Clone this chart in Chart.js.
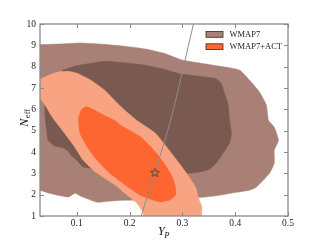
<!DOCTYPE html>
<html>
<head>
<meta charset="utf-8">
<script src="https://cdn.jsdelivr.net/npm/chart.js@4/dist/chart.umd.min.js"></script>
<style>
  html, body { margin: 0; padding: 0; background: #fff; }
  #wrap { width: 320px; height: 240px; }
</style>
</head>
<body>
<div id="wrap"><canvas id="c" width="320" height="240"></canvas></div>
<script>
// contour outlines, [Y_P, N_eff]
const wmap7Outer = [
  [0.02, 9.03], [0.068, 9.06], [0.106, 9.11], [0.144, 9.06], [0.186, 8.97], [0.230, 8.83],
  [0.268, 8.61], [0.300, 8.31], [0.345, 8.12], [0.408, 7.84], [0.427, 7.37], [0.446, 6.81],
  [0.459, 6.20], [0.463, 5.49], [0.474, 5.16], [0.482, 4.55], [0.474, 4.08], [0.474, 3.47],
  [0.465, 3.00], [0.440, 2.35], [0.427, 2.21], [0.402, 2.11], [0.370, 1.97], [0.340, 1.88],
  [0.296, 1.83], [0.239, 1.74], [0.188, 1.74], [0.159, 1.69], [0.140, 1.64], [0.127, 1.74],
  [0.108, 1.92], [0.097, 2.07], [0.084, 1.89], [0.065, 1.97], [0.046, 2.08], [0.030, 2.21],
  [0.02, 2.21], [0.02, 9.03]
];
const wmap7Inner = [
  [0.074, 7.84], [0.097, 8.03], [0.122, 8.14], [0.154, 8.25], [0.186, 8.19], [0.224, 8.09],
  [0.262, 7.90], [0.294, 7.67], [0.345, 7.51], [0.364, 7.43], [0.374, 7.20], [0.380, 6.73],
  [0.387, 6.20], [0.389, 5.54], [0.393, 4.88], [0.389, 4.41], [0.377, 3.94], [0.364, 3.47],
  [0.351, 3.19], [0.334, 3.07], [0.315, 3.00], [0.239, 3.05], [0.163, 3.15], [0.112, 3.30],
  [0.100, 3.62], [0.089, 3.85], [0.084, 4.04], [0.074, 4.20], [0.059, 4.27], [0.046, 4.55],
  [0.042, 5.16], [0.040, 5.73], [0.040, 6.43], [0.053, 7.14], [0.074, 7.84]
];
const actOuter = [
  [0.02, 7.37], [0.032, 7.43], [0.046, 7.59], [0.065, 7.75], [0.084, 7.78], [0.103, 7.67],
  [0.127, 7.36], [0.153, 6.89], [0.178, 6.26], [0.195, 5.87], [0.213, 5.49], [0.249, 4.88],
  [0.275, 4.08], [0.294, 3.47], [0.313, 2.82], [0.325, 2.35], [0.332, 1.74], [0.337, 1.42],
  [0.336, 0.99], [0.334, 0.56], [0.224, 0.56], [0.226, 1.13], [0.214, 1.60], [0.188, 2.13],
  [0.178, 2.36], [0.153, 2.77], [0.131, 3.15], [0.112, 3.62], [0.096, 4.24], [0.077, 4.88],
  [0.058, 5.49], [0.049, 5.82], [0.040, 6.20], [0.030, 6.53], [0.02, 6.53], [0.02, 7.37]
];
const actInner = [
  [0.103, 5.59], [0.108, 5.96], [0.118, 6.13], [0.134, 5.96], [0.153, 5.71], [0.172, 5.48],
  [0.186, 5.21], [0.221, 4.71], [0.249, 4.00], [0.268, 3.38], [0.281, 2.83], [0.287, 2.36],
  [0.287, 1.97], [0.275, 1.74], [0.258, 1.66], [0.245, 1.74], [0.220, 1.97], [0.188, 2.52],
  [0.163, 2.99], [0.138, 3.62], [0.120, 4.24], [0.106, 4.88], [0.103, 5.59]
];
const bbnLine = [[0.222, 1.0], [0.248, 3.05], [0.278, 5.5], [0.321, 10.0]];
const fiducial = [[0.248, 3.04]];

const xTicks = [0.1, 0.2, 0.3, 0.4, 0.5];
const yTicks = [1, 2, 3, 4, 5, 6, 7, 8, 9, 10];
const legendLabels = ['WMAP7', 'WMAP7+ACT'];

const colors = {
  wmapOuter: '#a88076',
  wmapInner: '#7a5a50',
  actOuter: '#f8a482',
  actInner: '#fd6630',
  line: '#8c8c8c',
  axis: '#8a8a8a'
};
const serif = "'Liberation Serif', 'DejaVu Serif', serif";

const toPts = arr => arr.map(([x, y]) => ({ x, y }));

function polygon(data, color, order) {
  return {
    data: toPts(data),
    showLine: true,
    fill: 'shape',
    backgroundColor: color,
    borderColor: color,
    borderWidth: 0.5,
    pointRadius: 0,
    pointHoverRadius: 0,
    tension: 0.15,
    order
  };
}

// small outlined 5-point star for the fiducial point
function starImage() {
  const c = document.createElement('canvas');
  c.width = 11; c.height = 11;
  const g = c.getContext('2d');
  g.beginPath();
  for (let i = 0; i < 10; i++) {
    const r = i % 2 === 0 ? 4.6 : 1.9;
    const a = -Math.PI / 2 + i * Math.PI / 5;
    const px = 5.5 + r * Math.cos(a), py = 5.8 + r * Math.sin(a);
    i === 0 ? g.moveTo(px, py) : g.lineTo(px, py);
  }
  g.closePath();
  g.strokeStyle = '#4a4a4a';
  g.lineWidth = 1;
  g.stroke();
  return c;
}

const decorPlugin = {
  id: 'decor',
  afterDatasetsDraw(chart) {
    const { ctx, chartArea: a, scales: { x, y } } = chart;
    ctx.save();
    ctx.strokeStyle = colors.axis;
    ctx.lineWidth = 1;
    ctx.beginPath();
    xTicks.forEach(v => {
      const px = Math.round(x.getPixelForValue(v)) + 0.5;
      ctx.moveTo(px, a.bottom); ctx.lineTo(px, a.bottom - 4);
      ctx.moveTo(px, a.top); ctx.lineTo(px, a.top + 4);
    });
    yTicks.forEach(v => {
      const py = Math.round(y.getPixelForValue(v)) + 0.5;
      ctx.moveTo(a.left, py); ctx.lineTo(a.left + 4, py);
      ctx.moveTo(a.right, py); ctx.lineTo(a.right - 4, py);
    });
    ctx.stroke();
    ctx.lineWidth = 1.3;
    ctx.strokeRect(a.left, a.top, a.right - a.left, a.bottom - a.top);
    ctx.restore();
  },
  afterDraw(chart) {
    const { ctx, chartArea: a } = chart;
    ctx.save();

    // legend
    const fills = [colors.wmapOuter, colors.actInner];
    ctx.font = '8.5px ' + serif;
    ctx.textBaseline = 'middle';
    legendLabels.forEach((lab, i) => {
      const by = 31.5 + i * 12.3;
      ctx.fillStyle = fills[i];
      ctx.fillRect(206, by, 17, 5.8);
      ctx.strokeStyle = '#3a2a25';
      ctx.lineWidth = 0.8;
      ctx.strokeRect(206, by, 17, 5.8);
      ctx.fillStyle = '#222';
      ctx.fillText(lab, 229.5, by + 3.2);
    });

    // x axis title: Y_P
    ctx.fillStyle = '#111';
    ctx.textBaseline = 'alphabetic';
    const bigFont = 'italic 12px ' + serif;
    const subFont = 'italic 8.5px ' + serif;
    ctx.font = bigFont;
    const wY = ctx.measureText('Y').width;
    ctx.font = subFont;
    const wP = ctx.measureText('P').width;
    let sx = (a.left + a.right) / 2 - (wY + wP) / 2;
    ctx.font = bigFont;
    ctx.fillText('Y', sx, 235);
    ctx.font = subFont;
    ctx.fillText('P', sx + wY - 0.5, 237.5);

    // y axis title: N_eff
    ctx.translate(27.5, (a.top + a.bottom) / 2 - 2);
    ctx.rotate(-Math.PI / 2);
    ctx.font = bigFont;
    const wN = ctx.measureText('N').width;
    ctx.font = '8.5px ' + serif;
    const wE = ctx.measureText('eff').width;
    const start = -(wN + wE) / 2;
    ctx.font = bigFont;
    ctx.fillText('N', start, 0);
    ctx.font = '8.5px ' + serif;
    ctx.fillText('eff', start + wN + 0.5, 2.5);
    ctx.restore();
  }
};

new Chart(document.getElementById('c'), {
  type: 'scatter',
  data: {
    datasets: [
      polygon(wmap7Outer, colors.wmapOuter, 6),
      polygon(wmap7Inner, colors.wmapInner, 5),
      polygon(actOuter, colors.actOuter, 4),
      polygon(actInner, colors.actInner, 3),
      {
        data: toPts(bbnLine),
        showLine: true,
        fill: false,
        borderColor: colors.line,
        borderWidth: 1,
        pointRadius: 0,
        tension: 0.3,
        order: 2
      },
      {
        data: toPts(fiducial),
        pointStyle: starImage(),
        pointRadius: 5,
        order: 1
      }
    ]
  },
  options: {
    responsive: false,
    animation: false,
    devicePixelRatio: 1,
    events: [],
    layout: { padding: { top: 24, right: 32, left: 0, bottom: 0 } },
    plugins: {
      legend: { display: false },
      tooltip: { enabled: false },
      filler: { propagate: false }
    },
    scales: {
      x: {
        type: 'linear',
        min: 0.0304,
        max: 0.5,
        grid: { display: false, drawTicks: false },
        border: { display: false },
        afterFit: s => { s.height = 24; },
        afterBuildTicks: s => { s.ticks = xTicks.map(v => ({ value: v })); },
        ticks: {
          padding: 2,
          color: '#222',
          font: { family: serif, size: 9.5 },
          maxRotation: 0,
          callback: v => v.toFixed(1)
        }
      },
      y: {
        type: 'linear',
        min: 1,
        max: 10,
        grid: { display: false, drawTicks: false },
        border: { display: false },
        afterFit: s => { s.width = 40; },
        afterBuildTicks: s => { s.ticks = yTicks.map(v => ({ value: v })); },
        ticks: {
          padding: 4,
          color: '#222',
          font: { family: serif, size: 9.5 },
          callback: v => String(v)
        }
      }
    }
  },
  plugins: [decorPlugin]
});
</script>
</body>
</html>
